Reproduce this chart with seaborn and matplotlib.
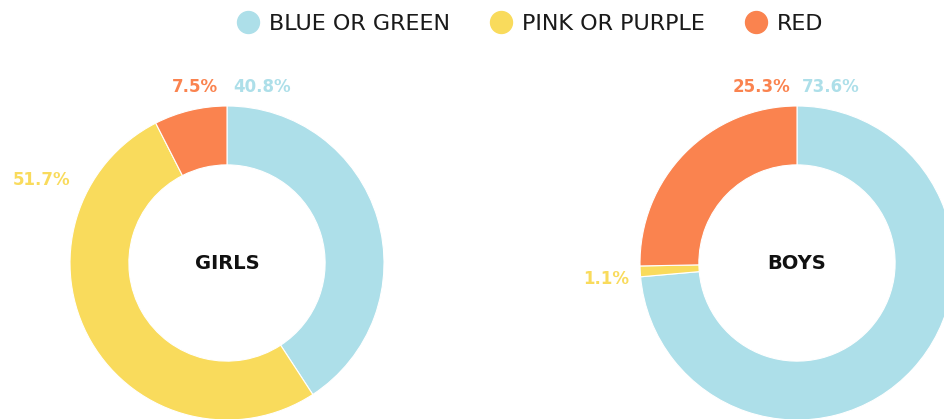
import matplotlib
matplotlib.use("Agg")
import matplotlib.pyplot as plt
from matplotlib.lines import Line2D
import seaborn as sns

categories = ["BLUE OR GREEN", "PINK OR PURPLE", "RED"]
girls = [40.8, 51.7, 7.5]
boys = [73.6, 1.1, 25.3]
groups = ["GIRLS", "BOYS"]
colors = ["#ADDFE9", "#F9DB5C", "#FA834F"]

sns.set_theme(style="white")
plt.rcParams['font.family'] = ['DejaVu Sans']

W, H = 945, 419
fig = plt.figure(figsize=(W / 100, H / 100), dpi=100)
R = 157
centers = [(227, 263), (797, 263)]

# label placement (data coords relative to pie radius 1): (x, y, ha)
label_pos = {
    "GIRLS": [(0.04, 1.12, "left"), (-1.0, 0.53, "right"), (-0.06, 1.12, "right")],
    "BOYS": [(0.03, 1.12, "left"), (-1.07, -0.10, "right"), (-0.04, 1.12, "right")],
}

for name, vals, (cx, cy) in zip(groups, [girls, boys], centers):
    left = (cx - R) / W
    bottom = (H - cy - R) / H
    ax = fig.add_axes([left, bottom, 2 * R / W, 2 * R / H])
    ax.pie(vals, colors=colors, startangle=90, counterclock=False, radius=1,
           wedgeprops=dict(width=0.375, edgecolor="white", linewidth=0.8))
    ax.set_xlim(-1, 1)
    ax.set_ylim(-1, 1)
    ax.set_aspect("auto")
    ax.axis("off")
    ax.text(0, 0, name, ha="center", va="center", fontsize=14,
            fontweight="bold", color="#111111")
    for v, c, (tx, ty, ha) in zip(vals, colors, label_pos[name]):
        ax.text(tx, ty, f"{v}%", ha=ha, va="center", fontsize=12,
                fontweight="bold", color=c, clip_on=False)

handles = [Line2D([], [], marker="o", linestyle="", markersize=15.8,
                  markerfacecolor=c, markeredgecolor=c) for c in colors]
fig.legend(handles, categories, loc="center", bbox_to_anchor=(0.561, 1 - 24 / H),
           ncol=3, frameon=False, fontsize=16, handletextpad=0.45,
           columnspacing=1.8, handlelength=1.0, labelcolor="#1a1a1a",
           borderpad=0, borderaxespad=0)

fig.savefig("out.png", dpi=100)
